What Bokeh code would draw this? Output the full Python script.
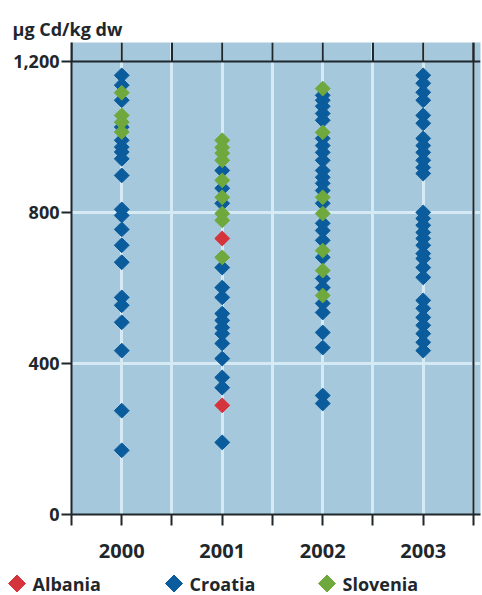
from bokeh.plotting import figure
from bokeh.models import FixedTicker, NumeralTickFormatter, Span
from bokeh.layouts import column
from bokeh.core.properties import value
from bokeh.embed import file_html
from bokeh.resources import INLINE

# ---- data (µg Cd/kg dw) ----
years = [2000, 2001, 2002, 2003]
year_labels = ["2000", "2001", "2002", "2003"]
y_ticks = [0, 400, 800, 1200]
countries = ["Albania", "Croatia", "Slovenia"]

croatia_2000 = [1163, 1137, 1097, 1026, 991, 973, 960, 942, 898, 808, 792, 755, 713, 668, 575, 554, 509, 434, 275, 170]
croatia_2001 = [911, 864, 824, 654, 601, 575, 532, 514, 495, 479, 453, 413, 363, 336, 191]
croatia_2002 = [1110, 1097, 1081, 1062, 1044, 996, 977, 959, 938, 911, 893, 877, 858, 824, 771, 752, 726, 681, 625, 601, 559, 535, 482, 442, 315, 294]
croatia_2003 = [1163, 1142, 1118, 1097, 1057, 1036, 996, 977, 959, 938, 919, 903, 800, 784, 766, 747, 731, 713, 691, 678, 654, 628, 567, 546, 522, 501, 479, 456, 434]

slovenia_2000 = [1117, 1057, 1039, 1013]
slovenia_2001 = [991, 972, 957, 938, 885, 840, 797, 779, 681]
slovenia_2002 = [1128, 1012, 840, 797, 699, 646, 580]
slovenia_2003 = []

albania_2000 = []
albania_2001 = [731, 289]
albania_2002 = []
albania_2003 = []

def flatten(series):
    xs, ys = [], []
    for yr, vals in zip(years, series):
        xs += [yr] * len(vals)
        ys += vals
    return xs, ys

cro_x, cro_y = flatten([croatia_2000, croatia_2001, croatia_2002, croatia_2003])
slo_x, slo_y = flatten([slovenia_2000, slovenia_2001, slovenia_2002, slovenia_2003])
alb_x, alb_y = flatten([albania_2000, albania_2001, albania_2002, albania_2003])

# ---- styling ----
BG = "#a6c8dc"
GRID = "#d6eaf5"
DARK = "#1e272c"
BLUE = "#0b5c9c"
GREEN = "#6fa83c"
RED = "#d6343c"
FONT = "Open Sans"
DIAMOND = 0.785398

x_ticks = [1999.5 + 0.5 * i for i in range(9)]

p = figure(width=482, height=569, output_backend="svg", toolbar_location=None,
           x_range=(1999.5, 2003.57), y_range=(0, 1250),
           min_border_left=71, min_border_right=2, min_border_top=42, min_border_bottom=55)
p.background_fill_color = BG
p.outline_line_color = None

# title (unit label)
p.title.text = "µg Cd/kg dw"
p.title.align = "left"
p.title.offset = -59
p.title.standoff = 4
p.title.text_font = FONT
p.title.text_font_style = "bold"
p.title.text_font_size = "18px"
p.title.text_color = DARK

# grids
p.xgrid.ticker = FixedTicker(ticks=x_ticks)
p.xgrid.grid_line_color = GRID
p.xgrid.grid_line_width = 3
p.ygrid.ticker = FixedTicker(ticks=[400, 800])
p.ygrid.grid_line_color = GRID
p.ygrid.grid_line_width = 3

# axes
p.xaxis.ticker = FixedTicker(ticks=x_ticks)
overrides = {t: "" for t in x_ticks}
for yr, lab in zip(years, year_labels):
    overrides[yr] = lab
p.xaxis.major_label_overrides = overrides
p.yaxis.ticker = FixedTicker(ticks=y_ticks)
p.yaxis.formatter = NumeralTickFormatter(format="0,0")
for ax in (p.xaxis[0], p.yaxis[0]):
    ax.axis_line_color = DARK
    ax.axis_line_width = 2
    ax.major_tick_line_color = DARK
    ax.major_tick_line_width = 2
    ax.major_tick_in = 0
    ax.minor_tick_line_color = None
    ax.major_label_text_font = FONT
    ax.major_label_text_font_style = "bold"
    ax.major_label_text_color = DARK
p.xaxis.major_label_text_font_size = "20px"
p.yaxis.major_label_text_font_size = "18px"
p.xaxis.major_tick_out = 11
p.xaxis.major_label_standoff = 18
p.yaxis.major_tick_out = 10
p.yaxis.major_label_standoff = 2

# decorative frame lines
p.add_layout(Span(location=1200, dimension="width", line_color=DARK, line_width=2))
p.add_layout(Span(location=x_ticks[-1], dimension="height", line_color=DARK, line_width=2))
p.segment(x0=x_ticks, y0=[1200] * len(x_ticks), x1=x_ticks, y1=[1250] * len(x_ticks),
          line_color=DARK, line_width=2)

# points
p.scatter(cro_x, cro_y, marker="square", angle=DIAMOND, size=10.5,
          fill_color=BLUE, line_color=BLUE)
p.scatter(slo_x, slo_y, marker="square", angle=DIAMOND, size=10.5,
          fill_color=GREEN, line_color=GREEN)
p.scatter(alb_x, alb_y, marker="square", angle=DIAMOND, size=10.5,
          fill_color=RED, line_color=RED)

# ---- legend strip (pixel-unit figure under the chart) ----
leg = figure(width=482, height=26, output_backend="svg", toolbar_location=None,
             x_range=(0, 482), y_range=(0, 26),
             min_border_left=0, min_border_right=0, min_border_top=0, min_border_bottom=0)
leg.axis.visible = False
leg.grid.visible = False
leg.outline_line_color = None
leg_x = [16.5, 173.5, 326.5]
leg_colors = [RED, BLUE, GREEN]
leg.scatter(leg_x, [12] * 3, marker="square", angle=DIAMOND, size=12,
            fill_color=leg_colors, line_color=leg_colors)
leg.text([x + 15.5 for x in leg_x], [12] * 3, text=countries,
         text_font=value(FONT), text_font_style="bold", text_font_size="18px",
         text_color=DARK, text_baseline="middle", text_align="left")

# keep each figure's frame independent (no cross-figure frame alignment)
for fig in (p, leg):
    if "frame_align" in fig.properties():
        fig.frame_align = False

layout = column(p, leg, spacing=0)
open("out.html", "w").write(file_html(layout, INLINE))
